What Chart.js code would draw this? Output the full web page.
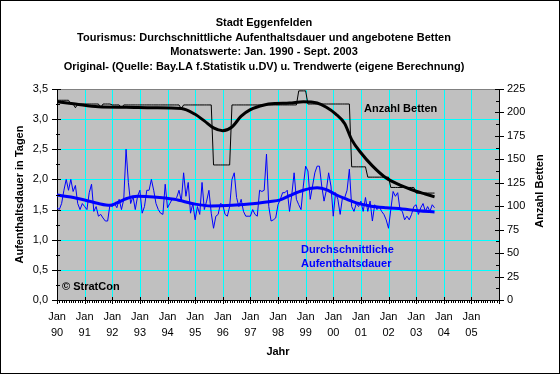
<!DOCTYPE html>
<html lang="de">
<head>
<meta charset="utf-8">
<title>Stadt Eggenfelden - Tourismus</title>
<script src="https://cdn.jsdelivr.net/npm/chart.js@4.4.1/dist/chart.umd.min.js"></script>
<style>
  body { margin: 0; background: #fff; }
</style>
</head>
<body>
<canvas id="tourismChart" width="560" height="374"></canvas>
<script>
// Monatswerte Jan. 1990 - Sept. 2003 (Monat 0 = Jan. 1990)
const aufenthaltsdauer = [
  1.53, 1.50, 1.60, 1.82, 2.00, 1.82, 2.00, 1.80, 1.90, 1.60, 1.50, 1.60, // 1990
  1.55, 1.50, 1.78, 1.92, 1.47, 1.55, 1.39, 1.42, 1.36, 1.31, 1.31, 1.58, // 1991
  1.55, 1.60, 1.53, 1.67, 1.50, 1.67, 2.50, 1.95, 1.60, 1.72, 1.50, 1.72, // 1992
  1.82, 1.44, 1.55, 1.82, 1.82, 2.00, 1.82, 1.60, 1.50, 1.44, 1.42, 1.92, // 1993
  1.53, 1.60, 1.67, 1.67, 1.70, 1.82, 1.64, 2.11, 1.72, 1.95, 1.44, 1.60, // 1994
  1.33, 1.55, 1.42, 1.95, 1.50, 1.64, 1.82, 1.44, 1.19, 1.39, 1.42, 1.60, // 1995
  1.58, 1.42, 1.39, 1.55, 2.00, 2.11, 1.70, 1.55, 1.67, 1.47, 1.39, 1.39, // 1996
  1.39, 1.50, 1.42, 1.39, 1.82, 1.80, 1.82, 2.42, 1.55, 1.31, 1.33, 1.36, // 1997
  1.58, 1.67, 1.78, 1.78, 1.82, 1.47, 1.75, 2.11, 1.67, 1.58, 1.50, 1.89, // 1998
  2.22, 2.14, 1.67, 1.89, 2.11, 2.22, 2.22, 1.89, 1.64, 1.82, 2.11, 1.89, // 1999
  1.39, 1.78, 1.67, 1.42, 1.70, 1.70, 1.82, 2.17, 1.55, 1.47, 1.60, 1.55, // 2000
  1.64, 1.47, 1.70, 1.47, 1.64, 1.31, 1.58, 1.50, 1.55, 1.47, 1.42, 1.33, // 2001
  1.19, 1.50, 1.80, 1.72, 1.78, 1.50, 1.47, 1.33, 1.39, 1.33, 1.42, 1.55, // 2002
  1.58, 1.42, 1.53, 1.60, 1.47, 1.55, 1.47, 1.58, 1.53                    // 2003
];

const betten = [
  213, 213, 213, 213, 213, 213, 209, 209, 205, 209, 209, 209, // 1990
  209, 209, 209, 209, 209, 209, 209, 205, 209, 209, 209, 209, // 1991
  208, 208, 208, 208, 205, 208, 208, 208, 208, 208, 208, 208, // 1992
  208, 208, 208, 208, 208, 208, 208, 208, 208, 208, 208, 208, // 1993
  208, 208, 208, 208, 208, 208, 204, 208, 208, 208, 208, 208, // 1994
  208, 208, 208, 208, 208, 208, 208, 208, 144, 144, 144, 144, // 1995
  144, 144, 144, 144, 208, 208, 208, 208, 208, 208, 208, 208, // 1996
  208, 208, 208, 208, 208, 208, 208, 208, 208, 208, 208, 208, // 1997
  208, 208, 208, 208, 208, 208, 208, 208, 208, 223, 223, 223, // 1998
  223, 209, 209, 209, 209, 209, 209, 209, 209, 209, 209, 209, // 1999
  209, 209, 209, 209, 209, 209, 209, 209, 142, 142, 142, 142, // 2000
  142, 142, 142, 131, 131, 131, 131, 131, 131, 131, 131, 131, // 2001
  131, 120, 120, 120, 120, 120, 120, 120, 120, 120, 120, 120, // 2002
  114, 114, 114, 114, 114, 114, 114, 114, 114                 // 2003
];

// Trendwerte (eigene Berechnung)
const trendDauerMonate = [0, 6, 12, 18, 23, 26, 30, 35, 42, 51, 60, 67, 76, 86, 92, 97, 101, 107, 113, 117, 121, 126, 130, 136, 143, 150, 157, 164];
const trendDauer = [1.74, 1.71, 1.66, 1.60, 1.57, 1.61, 1.68, 1.72, 1.71, 1.67, 1.59, 1.56, 1.57, 1.60, 1.63, 1.66, 1.73, 1.82, 1.86, 1.83, 1.75, 1.67, 1.61, 1.56, 1.53, 1.51, 1.48, 1.46];

const trendBettenMonate = [0, 8, 18, 30, 42, 54, 60, 64, 68, 72, 76, 80, 84, 90, 95, 101, 107, 113, 117, 121, 125, 128, 132, 137, 143, 149, 156, 160, 164];
const trendBetten = [211.5, 209, 206, 205.5, 205, 204.3, 198, 191, 183.5, 180.5, 184.5, 196, 203, 208, 209.5, 210, 211.5, 210, 205.5, 198.5, 188, 171, 157, 143, 130, 122.5, 116, 113, 110];

const jahre = ['90', '91', '92', '93', '94', '95', '96', '97', '98', '99', '00', '01', '02', '03', '04', '05'];

const titelZeilen = [
  'Stadt Eggenfelden',
  'Tourismus: Durchschnittliche Aufenthaltsdauer und angebotene Betten',
  'Monatswerte: Jan. 1990 - Sept. 2003',
  'Original- (Quelle: Bay.LA f.Statistik u.DV) u. Trendwerte (eigene Berechnung)'
];

const FONT = "'Liberation Sans', Arial, sans-serif";
Chart.defaults.font.family = FONT;
Chart.defaults.font.size = 11;
Chart.defaults.color = '#000';

const CYAN = '#00ffff';

// background, grid, title, annotations, tick marks and frame
const excelLook = {
  id: 'excelLook',
  beforeDraw(chart) {
    const { ctx, chartArea: a } = chart;
    ctx.save();
    ctx.fillStyle = '#fff';
    ctx.fillRect(0, 0, chart.width, chart.height);
    ctx.fillStyle = '#c0c0c0';
    ctx.fillRect(a.left, a.top, a.right - a.left, a.bottom - a.top);
    ctx.restore();
  },
  beforeDatasetsDraw(chart) {
    const { ctx, chartArea: a, scales: { x, y } } = chart;
    const L = Math.round(a.left), R = Math.round(a.right);
    const T = Math.round(a.top), B = Math.round(a.bottom);
    ctx.save();
    ctx.fillStyle = CYAN;
    x.ticks.forEach((t) => {
      if (t.value <= 0 || t.value >= 192) return;
      const px = Math.round(x.getPixelForValue(t.value));
      ctx.fillRect(px, T, 1, B - T);
    });
    y.ticks.forEach((t) => {
      if (t.value <= 0 || t.value >= 3.5) return;
      const py = Math.round(y.getPixelForValue(t.value));
      ctx.fillRect(L, py, R - L, 1);
    });
    ctx.fillStyle = '#808080';
    ctx.fillRect(L, T, R - L, 1);
    ctx.restore();
  },
  afterDraw(chart) {
    const { ctx, chartArea: a, scales: { x, y, y1 } } = chart;
    ctx.save();

    // title
    ctx.fillStyle = '#000';
    ctx.font = 'bold 11px ' + FONT;
    ctx.textAlign = 'center';
    ctx.textBaseline = 'middle';
    titelZeilen.forEach((t, i) => ctx.fillText(t, 264, 23 + i * 14.7));

    // labels inside plot
    ctx.textAlign = 'left';
    ctx.fillText('Anzahl Betten', 364, 109);
    ctx.fillText('\u00A9 StratCon', 62, 287);
    ctx.fillStyle = '#0000ff';
    ctx.fillText('Durchschnittliche', 301, 250);
    ctx.fillText('Aufenthaltsdauer', 301, 264);

    // right axis title (reads upwards)
    ctx.fillStyle = '#000';
    ctx.translate(540, 191);
    ctx.rotate(-Math.PI / 2);
    ctx.textAlign = 'center';
    ctx.fillText('Anzahl Betten', 0, 0);
    ctx.setTransform(1, 0, 0, 1, 0, 0);

    // tick marks
    ctx.fillStyle = '#000';
    const B = Math.round(a.bottom);
    for (let m = 0; m <= 192; m++) {
      const px = Math.round(x.getPixelForValue(m));
      if (m % 12 === 0) ctx.fillRect(px, B - 3, 1, 7);
      else ctx.fillRect(px, B, 1, 3);
    }
    const L = Math.round(a.left) - 1;
    for (let k = 0; k <= 14; k++) {
      const py = Math.round(y.getPixelForValue(k * 0.25));
      if (k % 2 === 0) ctx.fillRect(L - 4, py, 9, 1);
      else ctx.fillRect(L, py, 4, 1);
    }
    const R = Math.round(a.right);
    for (let k = 0; k <= 18; k++) {
      const py = Math.round(y1.getPixelForValue(k * 12.5));
      if (k % 2 === 0) ctx.fillRect(R - 4, py, 9, 1);
      else ctx.fillRect(R - 3, py, 4, 1);
    }

    // outer frame
    ctx.strokeStyle = '#000';
    ctx.lineWidth = 1;
    ctx.strokeRect(0.5, 0.5, chart.width - 1, chart.height - 1);
    ctx.restore();
  }
};

const toPoints = (xs, ys) => xs.map((m, i) => ({ x: m, y: ys[i] }));

new Chart(document.getElementById('tourismChart'), {
  type: 'line',
  data: {
    datasets: [
      {
        label: 'Trend Betten',
        data: toPoints(trendBettenMonate, trendBetten),
        yAxisID: 'y1',
        borderColor: '#000',
        borderWidth: 3,
        cubicInterpolationMode: 'monotone',
        pointRadius: 0
      },
      {
        label: 'Trend Aufenthaltsdauer',
        data: toPoints(trendDauerMonate, trendDauer),
        yAxisID: 'y',
        borderColor: '#0000ff',
        borderWidth: 3,
        cubicInterpolationMode: 'monotone',
        pointRadius: 0
      },
      {
        label: 'Anzahl Betten',
        data: betten.map((v, i) => ({ x: i, y: v })),
        yAxisID: 'y1',
        borderColor: '#000',
        borderWidth: 1,
        pointRadius: 0
      },
      {
        label: 'Durchschnittliche Aufenthaltsdauer',
        data: aufenthaltsdauer.map((v, i) => ({ x: i, y: v })),
        yAxisID: 'y',
        borderColor: '#0000ff',
        borderWidth: 1,
        pointRadius: 0
      }
    ]
  },
  options: {
    responsive: false,
    animation: false,
    layout: { padding: { top: 89, left: 0, right: 0, bottom: 0 } },
    plugins: {
      legend: { display: false },
      tooltip: { enabled: false }
    },
    scales: {
      x: {
        type: 'linear',
        min: 0,
        max: 192,
        afterFit: (s) => { s.height = 74; },
        ticks: {
          stepSize: 12,
          autoSkip: false,
          maxRotation: 0,
          padding: 9,
          font: { size: 11, lineHeight: 1.45 },
          callback: (v) => (v % 12 === 0 && v < 192) ? ['Jan', jahre[v / 12]] : ''
        },
        grid: { display: false, drawTicks: false },
        border: { color: '#000' },
        title: {
          display: true,
          text: 'Jahr',
          font: { size: 11, weight: 'bold' },
          padding: { top: 0, bottom: 15 }
        }
      },
      y: {
        position: 'left',
        min: 0,
        max: 3.5,
        afterFit: (s) => { s.width = 57; },
        ticks: {
          stepSize: 0.5,
          padding: 9,
          callback: (v) => v.toFixed(1).replace('.', ',')
        },
        grid: { display: false, drawTicks: false },
        border: { color: '#000' },
        title: {
          display: true,
          text: 'Aufenthaltsdauer in Tagen',
          font: { size: 11, weight: 'bold' },
          padding: { top: 13, bottom: 0 }
        }
      },
      y1: {
        position: 'right',
        min: 0,
        max: 225,
        afterFit: (s) => { s.width = 61; },
        ticks: { stepSize: 25, padding: 8 },
        grid: { display: false, drawTicks: false },
        border: { color: '#000' }
      }
    }
  },
  plugins: [excelLook]
});
</script>
</body>
</html>
